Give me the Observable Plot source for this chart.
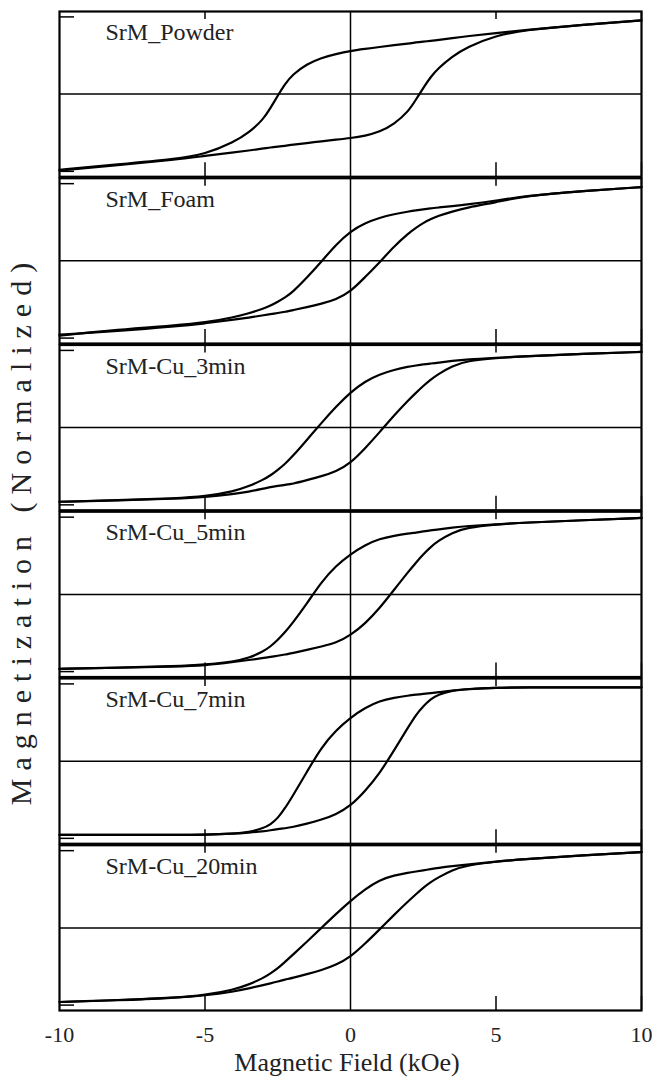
<!DOCTYPE html>
<html><head><meta charset="utf-8">
<script src="https://cdn.jsdelivr.net/npm/d3@7"></script>
<script src="https://cdn.jsdelivr.net/npm/@observablehq/plot@0.6"></script>
<style>body{margin:0;background:#fff}#chart svg{display:block}</style>
</head><body><div id="chart"></div>
<script>
// Panels (top to bottom)
const samples = ["SrM_Powder", "SrM_Foam", "SrM-Cu_3min", "SrM-Cu_5min", "SrM-Cu_7min", "SrM-Cu_20min"];
// Magnetic field grid (kOe)
const field = [-10,-8,-6,-5,-4,-3.5,-3,-2.75,-2.5,-2.25,-2,-1.5,-1,-0.5,0,0.5,1,1.5,2,2.25,2.5,2.75,3,3.5,4,5,6,8,10];
// Normalized magnetization, descending-field (upper) and ascending-field (lower) branches
const powderUpper = [-0.98,-0.91,-0.84,-0.78,-0.62,-0.50,-0.33,-0.18,-0.02,0.13,0.25,0.39,0.47,0.52,0.56,0.585,0.61,0.635,0.655,0.67,0.68,0.69,0.70,0.725,0.75,0.79,0.83,0.90,0.955];
const powderLower = [-0.99,-0.92,-0.85,-0.80,-0.755,-0.73,-0.705,-0.69,-0.68,-0.67,-0.655,-0.635,-0.61,-0.59,-0.57,-0.54,-0.49,-0.39,-0.22,-0.07,0.08,0.22,0.33,0.49,0.61,0.76,0.83,0.90,0.955];
const foamUpper = [-0.97,-0.89,-0.835,-0.80,-0.73,-0.68,-0.62,-0.58,-0.53,-0.475,-0.41,-0.22,-0.01,0.21,0.385,0.49,0.56,0.605,0.64,0.655,0.665,0.68,0.69,0.71,0.73,0.78,0.84,0.905,0.955];
const foamLower = [-0.955,-0.91,-0.85,-0.81,-0.76,-0.735,-0.705,-0.69,-0.675,-0.66,-0.64,-0.60,-0.555,-0.50,-0.40,-0.21,-0.02,0.19,0.36,0.43,0.49,0.54,0.58,0.64,0.69,0.76,0.84,0.905,0.955];
const cu3Upper = [-0.96,-0.94,-0.915,-0.89,-0.825,-0.76,-0.675,-0.62,-0.547,-0.47,-0.376,-0.16,0.06,0.27,0.457,0.6,0.69,0.75,0.79,0.805,0.82,0.83,0.84,0.865,0.885,0.905,0.925,0.955,0.98];
const cu3Lower = [-0.96,-0.945,-0.92,-0.90,-0.86,-0.83,-0.79,-0.77,-0.755,-0.74,-0.73,-0.68,-0.63,-0.57,-0.46,-0.27,-0.06,0.16,0.36,0.45,0.54,0.62,0.69,0.80,0.865,0.90,0.925,0.955,0.98];
const cu5Upper = [-0.965,-0.95,-0.93,-0.91,-0.87,-0.825,-0.74,-0.675,-0.59,-0.49,-0.376,-0.12,0.16,0.37,0.52,0.64,0.72,0.76,0.79,0.80,0.815,0.83,0.84,0.865,0.885,0.906,0.93,0.96,0.99];
const cu5Lower = [-0.965,-0.95,-0.935,-0.92,-0.876,-0.85,-0.825,-0.81,-0.795,-0.78,-0.76,-0.72,-0.675,-0.63,-0.53,-0.38,-0.18,0.06,0.30,0.41,0.52,0.61,0.69,0.80,0.865,0.906,0.93,0.96,0.99];
const cu7Upper = [-0.955,-0.955,-0.955,-0.953,-0.94,-0.92,-0.87,-0.82,-0.74,-0.61,-0.46,-0.14,0.18,0.40,0.564,0.69,0.78,0.82,0.85,0.86,0.87,0.88,0.89,0.915,0.93,0.95,0.955,0.955,0.955];
const cu7Lower = [-0.955,-0.955,-0.955,-0.953,-0.94,-0.925,-0.91,-0.895,-0.88,-0.87,-0.855,-0.81,-0.76,-0.69,-0.58,-0.39,-0.16,0.14,0.45,0.60,0.71,0.80,0.86,0.915,0.935,0.95,0.955,0.955,0.955];
const cu20Upper = [-0.96,-0.935,-0.905,-0.87,-0.80,-0.735,-0.65,-0.59,-0.525,-0.44,-0.355,-0.18,0.0,0.18,0.35,0.50,0.62,0.68,0.715,0.73,0.745,0.76,0.775,0.80,0.82,0.86,0.89,0.94,0.98];
const cu20Lower = [-0.96,-0.94,-0.905,-0.876,-0.825,-0.785,-0.74,-0.72,-0.695,-0.67,-0.65,-0.60,-0.547,-0.48,-0.376,-0.205,-0.02,0.17,0.35,0.435,0.52,0.59,0.65,0.75,0.81,0.86,0.89,0.94,0.98];
const xTickValues = [-10, -5, 0, 5, 10];
const innerXTicks = [-5, 5, 10];
const innerYTicks = [-1, 1];

const branches = [
  [powderUpper, powderLower], [foamUpper, foamLower], [cu3Upper, cu3Lower],
  [cu5Upper, cu5Lower], [cu7Upper, cu7Lower], [cu20Upper, cu20Lower]
];
const rows = [];
samples.forEach((s, k) => {
  ["upper", "lower"].forEach((b, j) => {
    branches[k][j].forEach((m, i) => rows.push({sample: s, branch: b, H: field[i], M: m}));
  });
});

const W = 652, Ht = 1079, mt = 11, mb = 69, ml = 59, mr = 11;
const padIn = 0.009;
const step = (Ht - mt - mb) / (samples.length - padIn);
const bw = step * (1 - padIn);
const fw = W - ml - mr;
const serif = "'Liberation Serif', 'Times New Roman', serif";

const chart = Plot.plot({
  width: W, height: Ht,
  marginTop: mt, marginBottom: mb, marginLeft: ml, marginRight: mr,
  style: {fontFamily: serif, fontSize: "22px", color: "black", background: "white"},
  x: {domain: [-10, 10]},
  y: {domain: [-1.07, 1.07], axis: null},
  fy: {domain: samples, axis: null, paddingInner: padIn, paddingOuter: 0, round: false},
  marks: [
    Plot.ruleY([0], {stroke: "black", strokeWidth: 1.5}),
    Plot.ruleX([0], {stroke: "black", strokeWidth: 1.5}),
    Plot.line(rows, {x: "H", y: "M", z: "branch", fy: "sample", curve: "basis", stroke: "black", strokeWidth: 2.2}),
    Plot.ruleX(innerXTicks, {stroke: "black", strokeWidth: 1.5, insetTop: bw - 14}),
    Plot.ruleX(innerXTicks, {stroke: "black", strokeWidth: 1.5, insetBottom: bw - 8}),
    Plot.ruleY(innerYTicks, {stroke: "black", strokeWidth: 1.5, insetRight: fw - 15}),
    Plot.frame({stroke: "black", strokeWidth: 2.2}),
    Plot.text(samples, {fy: d => d, text: d => d, frameAnchor: "top-left", dx: 46, dy: 21,
      lineAnchor: "middle", textAnchor: "start", fontSize: 24, fontFamily: serif, fill: "#222"}),
    Plot.axisX({ticks: xTickValues, tickSize: 0, tickPadding: 16, tickFormat: d => String(d),
      label: null, fontSize: 22, fontFamily: serif, fill: "#222"})
  ]
});

const svg = d3.select(chart);
svg.append("text")
  .attr("x", 347).attr("y", 1071)
  .attr("text-anchor", "middle")
  .attr("font-family", serif).attr("font-size", 26).attr("fill", "#222")
  .text("Magnetic Field (kOe)");
svg.append("text")
  .attr("transform", "translate(31,530) rotate(-90)")
  .attr("text-anchor", "middle")
  .attr("font-family", serif).attr("font-size", 30).attr("fill", "#222")
  .attr("letter-spacing", "8px")
  .text("Magnetization (Normalized)");

document.getElementById("chart").appendChild(chart);
</script>
</body></html>
